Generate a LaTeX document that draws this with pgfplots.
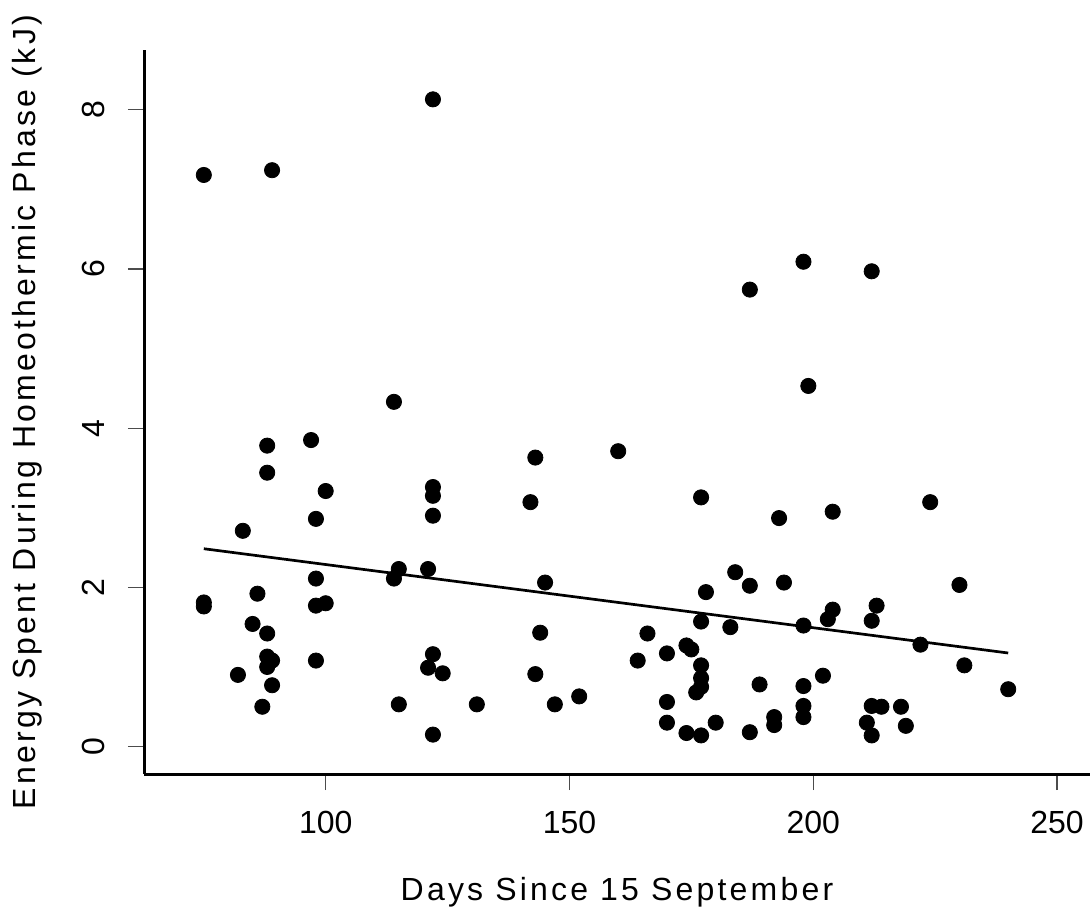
\documentclass[border=0pt]{standalone}
\usepackage{fontspec}
\setmainfont{Liberation Sans}
\newfontfamily\labelfont[LetterSpace=10]{Liberation Sans}
\usepackage{pgfplots}
\pgfplotsset{compat=1.18}
\begin{document}
\begin{tikzpicture}
\useasboundingbox (0,0) rectangle (545pt,453.5pt);
\begin{axis}[
  at={(72pt,66.5pt)}, anchor=south west,
  scale only axis, width=473pt, height=362pt,
  xmin=62.73, xmax=256.78, ymin=-0.345, ymax=8.75,
  axis x line*=bottom, axis y line*=left,
  axis line style={-, line width=1.5pt, black},
  xtick={100,150,200,250}, ytick={0,2,4,6,8},
  tick align=outside, major tick length=8pt,
  tick style={black!70, line width=0.6pt},
  /pgf/number format/assume math mode=true,
  ticklabel style={font=\fontsize{16}{19}\selectfont, inner sep=0pt},
  xticklabel style={anchor=north, yshift=-10.6pt},
  yticklabel style={xshift=-11.5pt, rotate=90, anchor=south},
  xlabel={Days Since 15 September},
  ylabel={Energy Spent During Homeothermic Phase (kJ)},
  label style={font=\labelfont\fontsize{16}{19}\selectfont, inner sep=0pt},
  xlabel style={at={(axis description cs:0.5,-0.17403)}, anchor=base},
  ylabel style={at={(axis description cs:-0.11522,0.5)}, anchor=base},
]
\addplot[only marks, mark=*, mark size=3.8pt, mark options={fill=black, draw=black, line width=0.4pt}] table {
x y
75 7.18
89 7.24
122 8.13
114 4.33
198 6.09
212 5.97
187 5.74
199 4.53
88 3.78
97 3.85
88 3.44
100 3.21
98 2.86
83 2.71
114 2.11
115 2.23
98 2.11
86 1.92
75 1.81
75 1.76
98 1.77
100 1.80
85 1.54
88 1.42
88 1.13
89 1.08
88 1.00
98 1.08
82 0.90
89 0.77
87 0.50
115 0.53
143 3.63
160 3.71
122 3.26
122 3.15
122 2.90
142 3.07
121 2.23
145 2.06
144 1.43
166 1.42
164 1.08
122 1.16
121 0.99
124 0.92
143 0.91
152 0.63
131 0.53
147 0.53
122 0.15
177 3.13
193 2.87
204 2.95
184 2.19
187 2.02
194 2.06
178 1.94
204 1.72
203 1.60
213 1.77
212 1.58
177 1.57
183 1.50
198 1.52
170 1.17
174 1.27
175 1.22
177 1.02
177 0.86
177 0.75
176 0.68
189 0.78
198 0.76
202 0.89
170 0.56
198 0.51
198 0.37
192 0.37
192 0.27
212 0.51
214 0.50
218 0.50
211 0.30
212 0.14
219 0.26
170 0.30
174 0.17
177 0.14
180 0.30
187 0.18
224 3.07
230 2.03
222 1.28
231 1.02
240 0.72
};
\addplot[black, line width=1.35pt] coordinates {(75,2.485) (240,1.175)};
\end{axis}
\end{tikzpicture}
\end{document}
